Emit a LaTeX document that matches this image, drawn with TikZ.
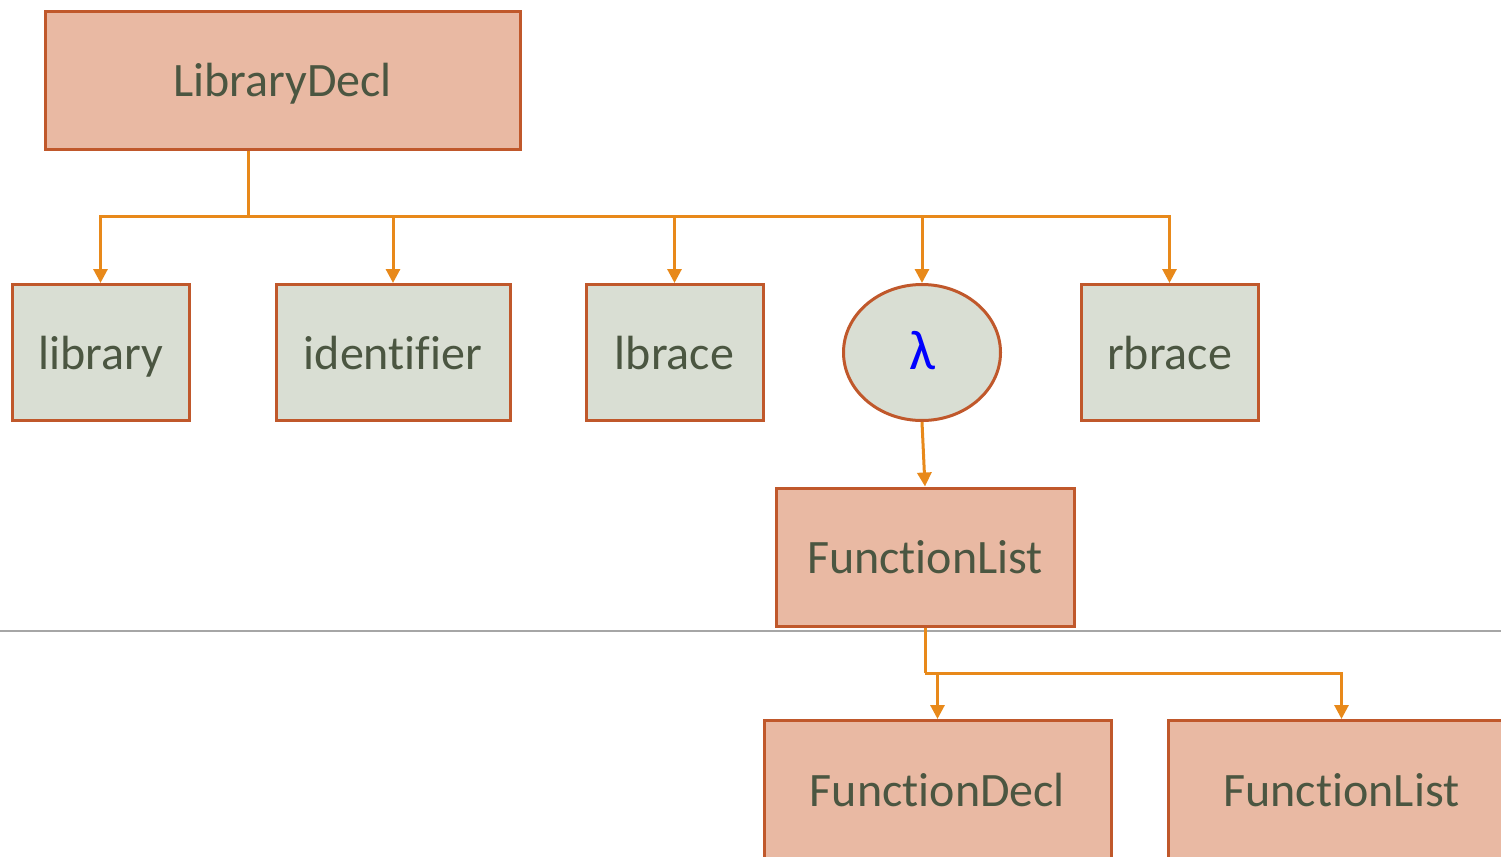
\documentclass[tikz,border=0pt]{standalone}
\usepackage{fontspec}
\setmainfont{Carlito}[Ligatures=NoCommon]
\usetikzlibrary{arrows.meta,shapes.geometric}
\definecolor{peach}{HTML}{E9B9A3}
\definecolor{sage}{HTML}{D9DED3}
\definecolor{rust}{HTML}{C0582B}
\definecolor{wire}{HTML}{E8891A}
\definecolor{ink}{HTML}{4B5641}
\definecolor{rule}{HTML}{A6A6A6}
\tikzset{
  base/.style={draw=rust, line width=1.5pt, text=ink, font=\fontsize{24}{28}\selectfont,
    inner sep=0pt, text height=19pt, text depth=2.5pt},
  nonterm/.style={base, rectangle, fill=peach},
  term/.style={base, rectangle, fill=sage, minimum width=88.5pt, minimum height=68pt},
  empty/.style={base, ellipse, fill=sage, minimum width=78.5pt, minimum height=68pt,
    text=blue, font=\fontsize{28}{32}\selectfont},
  wireline/.style={draw=wire, line width=1.5pt},
  wirearrow/.style={wireline, -{Triangle[width=7pt,length=7pt]}},
}
\begin{document}
\begin{tikzpicture}[x=0.5pt,y=-0.5pt]
\useasboundingbox (0,0) rectangle (1501,857);
\clip (0,0) rectangle (1501,857);

% divider
\draw[rule, line width=0.6pt] (0,631) -- (1501,631);

% nodes
\node[nonterm, minimum width=237.5pt, minimum height=69pt] (ld) at (282.5,80) {LibraryDecl};
\node[term] (lib) at (100.5,352.5) {library};
\node[term, minimum width=117pt] (id) at (393,352.5) {identifier};
\node[term] (lb) at (674.5,352.5) {lbrace};
\node[empty] (lam) at (922,352.5) {λ};
\node[term] (rb) at (1169.5,352.5) {rbrace};
\node[nonterm, minimum width=149pt, minimum height=69pt] (fl) at (925,557) {FunctionList};
\node[nonterm, minimum width=173.5pt, minimum height=69pt] (fd) at (937.5,789.5) {FunctionDecl};
\node[nonterm, minimum width=173.5pt, minimum height=69pt] (fl2) at (1341.5,789.5) {FunctionList};

% LibraryDecl children
\coordinate (j1) at (248,216);
\draw[wireline] ([xshift=-17.25pt]ld.south) -- (j1);
\foreach \c in {lib,id,lb,lam,rb}
  \draw[wirearrow] (j1) -| (\c.north);

% lambda to FunctionList
\draw[wirearrow] (lam.south) -- (fl.north);

% FunctionList children
\coordinate (j2) at (925,673);
\draw[wireline] (fl.south) -- (j2);
\draw[wirearrow] (j2) -| (fd.north);
\draw[wirearrow] (j2) -| (fl2.north);
\end{tikzpicture}
\end{document}
